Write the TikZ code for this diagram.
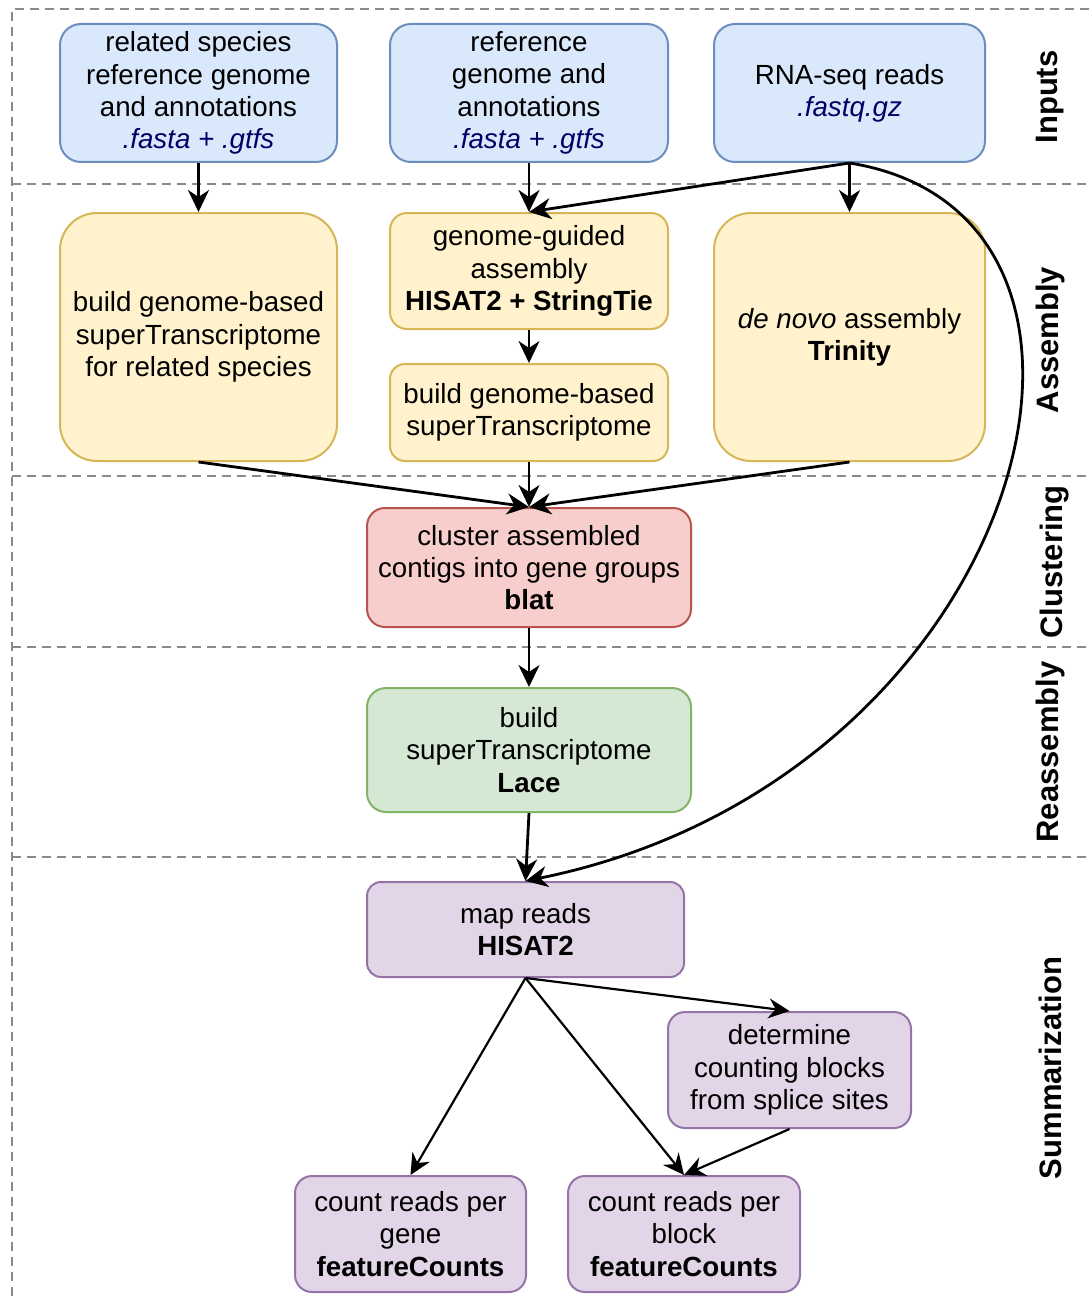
\documentclass[tikz,border=0pt]{standalone}
\usepackage{fontspec}
\setmainfont{Liberation Sans}
\usetikzlibrary{arrows.meta}
\definecolor{bfill}{HTML}{DAE8FC}\definecolor{bline}{HTML}{6C8EBF}
\definecolor{yfill}{HTML}{FFF2CC}\definecolor{yline}{HTML}{D6B656}
\definecolor{rfill}{HTML}{F8CECC}\definecolor{rline}{HTML}{B85450}
\definecolor{gfill}{HTML}{D5E8D4}\definecolor{gline}{HTML}{82B366}
\definecolor{pfill}{HTML}{E1D5E7}\definecolor{pline}{HTML}{9673A6}
\definecolor{navy}{HTML}{000066}
\definecolor{lanegray}{HTML}{8A8A8A}
\newcommand{\ext}[1]{\textcolor{navy}{\itshape #1}}
\tikzset{
  box/.style={draw, line width=2pt, align=center, inner sep=0pt,
    font=\fontsize{27.7}{32.3}\selectfont},
  bluebox/.style={box, fill=bfill, draw=bline},
  yelbox/.style={box, fill=yfill, draw=yline},
  redbox/.style={box, fill=rfill, draw=rline},
  grnbox/.style={box, fill=gfill, draw=gline},
  purbox/.style={box, fill=pfill, draw=pline},
  flow/.style={line width=2.8pt, -{Stealth[length=22pt,width=21pt,inset=7pt]}},
  flowthin/.style={line width=2.2pt, -{Stealth[length=21pt,width=20pt,inset=7pt]}},
  lane/.style={draw=lanegray, line width=1.6pt, dash pattern=on 9pt off 6pt},
  lanelabel/.style={rotate=90, font=\fontsize{31}{36}\selectfont\bfseries, inner sep=0pt}
}
\begin{document}
\begin{tikzpicture}[x=1pt, y=-1pt]
\useasboundingbox (0,0) rectangle (1089,1300);
% lanes
\draw[lane] (1089,9) -- (12,9) -- (12,1300);
\foreach \yy in {184,476,647,857} \draw[lane] (12,\yy) -- (1089,\yy);
\node[lanelabel] (l1) at (1050,97) {Inputs};
\node[lanelabel] (l2) at (1050,340) {Assembly};
\node[lanelabel] (l3) at (1055,562) {Clustering};
\node[lanelabel] (l4) at (1050,752) {Reassembly};
\node[lanelabel] (l5) at (1050,1068) {Summarization};
% inputs
\node[bluebox, minimum width=277, minimum height=138, rounded corners=21] (a1) at (198.5,93)
  {related species\\reference genome\\and annotations\\\ext{.fasta + .gtfs}};
\node[bluebox, minimum width=278, minimum height=138, rounded corners=21] (a2) at (529,93)
  {reference\\genome and\\annotations\\\ext{.fasta + .gtfs}};
\node[bluebox, minimum width=271, minimum height=138, rounded corners=21] (a3) at (849.5,93)
  {RNA-seq reads\\\ext{.fastq.gz}};
% assembly
\node[yelbox, minimum width=277, minimum height=248, rounded corners=37] (b1) at (198.5,337)
  {build genome-based\\superTranscriptome\\for related species};
\node[yelbox, minimum width=278, minimum height=116, rounded corners=17] (b2) at (529,271)
  {genome-guided\\assembly\\\textbf{HISAT2 + StringTie}};
\node[yelbox, minimum width=278, minimum height=97, rounded corners=15] (b3) at (529,412.5)
  {build genome-based\\superTranscriptome};
\node[yelbox, minimum width=271, minimum height=248, rounded corners=37] (b4) at (849.5,337)
  {\textit{de novo} assembly\\\textbf{Trinity}};
% clustering
\node[redbox, minimum width=324, minimum height=119, rounded corners=18] (c) at (529,567.5)
  {cluster assembled\\contigs into gene groups\\\textbf{blat}};
% reassembly
\node[grnbox, minimum width=324, minimum height=124, rounded corners=19] (d) at (529,750)
  {build\\superTranscriptome\\\textbf{Lace}};
% summarization
\node[purbox, minimum width=317, minimum height=95, rounded corners=14] (e) at (525.5,929.5)
  {map reads\\\textbf{HISAT2}};
\node[purbox, minimum width=243, minimum height=116, rounded corners=17] (f) at (789.5,1070)
  {determine\\counting blocks\\from splice sites};
\node[purbox, minimum width=231, minimum height=116, rounded corners=17] (g) at (410.5,1234)
  {count reads per\\gene\\\textbf{featureCounts}};
\node[purbox, minimum width=232, minimum height=116, rounded corners=17] (h) at (684,1234)
  {count reads per\\block\\\textbf{featureCounts}};
% edges
\draw[flow] (a1.south) -- (b1.north);
\draw[flow] (a2.south) -- (b2.north);
\draw[flow] (a3.south) -- (b2.north);
\draw[flow] (a3.south) -- (b4.north);
\draw[flow] (a3.south) .. controls (1175,215) and (1025,780) .. (e.north);
\draw[flow] (b2.south) -- (b3.north);
\draw[flow] (b1.south) -- (c.north);
\draw[flow] (b3.south) -- (c.north);
\draw[flow] (b4.south) -- (c.north);
\draw[flow] (c.south) -- (d.north);
\draw[flow] (d.south) -- (e.north);
\draw[flowthin] (e.south) -- (g.north);
\draw[flowthin] (e.south) -- (h.north);
\draw[flowthin] (e.south) -- (f.north);
\draw[flowthin] (f.south) -- (h.north);
\end{tikzpicture}
\end{document}
